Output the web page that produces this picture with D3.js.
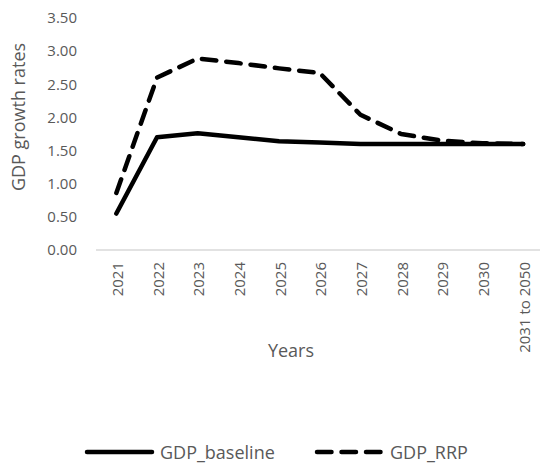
<!DOCTYPE html>
<html>
<head>
<meta charset="utf-8">
<script src="https://cdn.jsdelivr.net/npm/d3@7"></script>
<style>
  html, body { margin: 0; padding: 0; background: #fff; }
  svg { display: block; font-family: "Open Sans", sans-serif; }
</style>
</head>
<body>
<svg id="chart" width="540" height="463"></svg>
<script>
// Category labels along the x axis
const years = ["2021", "2022", "2023", "2024", "2025", "2026", "2027", "2028", "2029", "2030", "2031 to 2050"];
// GDP growth rates per scenario
const gdpBaseline = [0.55, 1.70, 1.76, 1.70, 1.64, 1.62, 1.60, 1.60, 1.60, 1.60, 1.60];
const gdpRRP      = [0.86, 2.60, 2.89, 2.82, 2.74, 2.67, 2.04, 1.75, 1.65, 1.61, 1.60];
// Y axis ticks
const yTicks = [0, 0.5, 1, 1.5, 2, 2.5, 3, 3.5];
const seriesNames = ["GDP_baseline", "GDP_RRP"];

const svg = d3.select("#chart");
const textColor = "#595959";
const dash = "14.5,10";

const x = d3.scalePoint().domain(years).range([96, 543.5]).padding(0.5);
const y = d3.scaleLinear().domain([0, 3.5]).range([250, 18]);

// Horizontal category axis line
svg.append("line")
  .attr("x1", 96).attr("x2", 543.5)
  .attr("y1", y(0)).attr("y2", y(0))
  .attr("stroke", "#d9d9d9").attr("stroke-width", 1.3);

// Y axis tick labels
const yAxis = d3.axisLeft(y).tickValues(yTicks).tickFormat(d3.format(".2f")).tickSize(0).tickPadding(0);
const yg = svg.append("g").attr("transform", "translate(77,0)").call(yAxis);
yg.select(".domain").remove();
yg.selectAll("text")
  .attr("fill", textColor)
  .style("font-size", "15px")
  .style("font-family", "'Open Sans', sans-serif");

// X axis labels, rotated
const xAxis = d3.axisBottom(x).tickSize(0).tickPadding(0);
const xg = svg.append("g").attr("transform", `translate(0,${y(0)})`).call(xAxis);
xg.select(".domain").remove();
xg.selectAll("text")
  .attr("fill", textColor)
  .style("font-size", "15px")
  .style("font-family", "'Open Sans', sans-serif")
  .attr("text-anchor", "end")
  .attr("dy", null)
  .attr("y", 0)
  .attr("transform", "translate(0,12) rotate(-90)")
  .attr("dominant-baseline", "central");

// Axis titles
svg.append("text")
  .attr("transform", "translate(18,117) rotate(-90)")
  .attr("text-anchor", "middle")
  .attr("dominant-baseline", "central")
  .attr("fill", textColor)
  .style("font-size", "18px")
  .text("GDP growth rates");

svg.append("text")
  .attr("x", 291).attr("y", 350)
  .attr("text-anchor", "middle")
  .attr("dominant-baseline", "central")
  .attr("fill", textColor)
  .style("font-size", "18px")
  .text("Years");

// Series lines
const line = d3.line()
  .x((d, i) => x(years[i]))
  .y(d => y(d));

svg.append("path")
  .datum(gdpBaseline)
  .attr("d", line)
  .attr("fill", "none")
  .attr("stroke", "#000")
  .attr("stroke-width", 4.5)
  .attr("stroke-linecap", "round")
  .attr("stroke-linejoin", "round");

svg.append("path")
  .datum(gdpRRP)
  .attr("d", line)
  .attr("fill", "none")
  .attr("stroke", "#000")
  .attr("stroke-width", 4.5)
  .attr("stroke-dasharray", dash)
  .attr("stroke-linecap", "round")
  .attr("stroke-linejoin", "round");

// Legend
const legendItems = [
  { name: seriesNames[0], x1: 87, x2: 152, tx: 160, dashed: false },
  { name: seriesNames[1], x1: 317, x2: 382, tx: 390, dashed: true }
];
const ly = 452;
legendItems.forEach(it => {
  svg.append("line")
    .attr("x1", it.x1).attr("x2", it.x2)
    .attr("y1", ly).attr("y2", ly)
    .attr("stroke", "#000")
    .attr("stroke-width", 4.5)
    .attr("stroke-linecap", "round")
    .attr("stroke-dasharray", it.dashed ? dash : null);
  svg.append("text")
    .attr("x", it.tx).attr("y", ly)
    .attr("dominant-baseline", "central")
    .attr("fill", textColor)
    .style("font-size", "18px")
    .text(it.name);
});
</script>
</body>
</html>
